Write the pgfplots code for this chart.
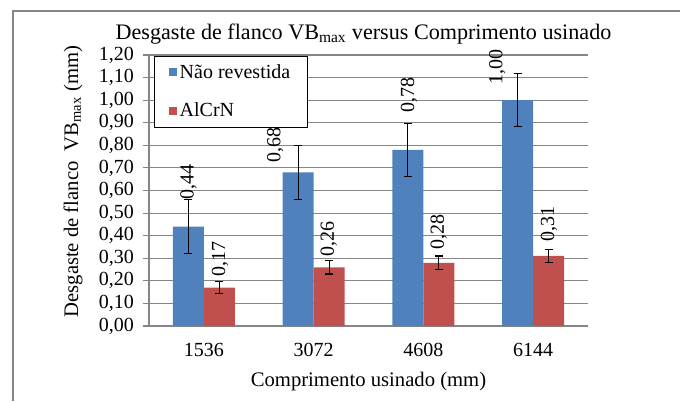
\documentclass[border=0pt]{standalone}
\usepackage{fontspec}
\setmainfont{Liberation Serif}
\usepackage{pgfplots}
\pgfplotsset{compat=1.18}

\definecolor{barblue}{HTML}{4F81BD}
\definecolor{barred}{HTML}{C0504D}
\definecolor{axisgray}{HTML}{868686}

\pgfplotsset{
    chartbox/.style={
        at={(111.75pt,56.25pt)}, anchor=south west,
        scale only axis,
        width=329.25pt, height=203.25pt,
        xmin=-0.5, xmax=3.5,
        ymin=0, ymax=1.2,
        clip=false,
        /pgf/number format/.cd, fixed, fixed zerofill, precision=2, use comma, assume math mode=true,
        /pgfplots/.cd,
    },
}

\begin{document}
\begin{tikzpicture}
% page = 680x401 px at 0.75pt per px
\useasboundingbox (0,0) rectangle (510pt,300.75pt);
\draw[axisgray, line width=0.8pt] (9.75pt,0) -- (9.75pt,292.5pt) -- (510pt,292.5pt);
\begin{axis}[
    chartbox,
    ybar=0pt, bar width=23.25pt,
    axis x line*=bottom, axis y line*=left,
    axis line style={axisgray, line width=0.8pt},
    xtick={0,1,2,3},
    xticklabels={1536,3072,4608,6144},
    xtick style={draw=none},
    ytick={0,0.1,0.2,0.3,0.4,0.5,0.6,0.7,0.8,0.9,1.0,1.1,1.2},
    ytick style={axisgray, line width=0.8pt},
    tick align=outside,
    major tick length=4.5pt,
    ymajorgrids=true,
    grid style={axisgray, line width=0.8pt},
    ticklabel style={font=\fontsize{15}{17}\selectfont},
    yticklabel style={xshift=-3.25pt},
    xticklabel style={yshift=-5pt},
    title={Desgaste de flanco VB\textsubscript{max} versus Comprimento usinado},
    title style={at={(axis description cs:0.4886,1.048)}, anchor=center, yshift=0pt,
        font=\fontsize{16.6}{19}\selectfont},
    xlabel={Comprimento usinado (mm)},
    xlabel style={at={(axis description cs:0.5,-0.2066)}, anchor=center,
        font=\fontsize{15.5}{18}\selectfont},
    ylabel={Desgaste de flanco\ \ VB\textsubscript{max} (mm)},
    ylabel style={at={(axis description cs:-0.173,0.533)}, anchor=center,
        font=\fontsize{15.5}{18}\selectfont},
    legend style={at={(rel axis cs:0.0114,0.996)}, anchor=north west,
        draw=black, line width=0.6pt, fill=white,
        font=\fontsize{15}{17}\selectfont,
        row sep=13pt, inner xsep=11pt, inner ysep=4pt},
    legend cell align=left,
    error bars/error bar style={black, line width=0.9pt},
    error bars/error mark options={black, rotate=90, mark size=3pt, line width=0.9pt},
]

\addplot[fill=barblue, draw=none, area legend,
    legend image code/.code={\fill[barblue] (0pt,-3pt) rectangle (6pt,3pt);},
    error bars/.cd, y dir=both, y explicit]
    table[x=x, y=v, y error=e] {
    x v    e
    0 0.44 0.12
    1 0.68 0.12
    2 0.78 0.117
    3 1.00 0.118
    };
\addlegendentry{Não revestida}

\addplot[fill=barred, draw=none, area legend,
    legend image code/.code={\fill[barred] (0pt,-3pt) rectangle (6pt,3pt);},
    error bars/.cd, y dir=both, y explicit]
    table[x=x, y=v, y error=e] {
    x v    e
    0 0.17 0.026
    1 0.26 0.03
    2 0.28 0.03
    3 0.31 0.03
    };
\addlegendentry{AlCrN}
\end{axis}

% data labels on an overlay axis of the same size, where the reference has them
\begin{axis}[chartbox, hide axis]
\addplot[draw=none, mark=none, nodes near coords, point meta=explicit,
    every node near coord/.append style={rotate=90, anchor=west, inner sep=0pt,
        font=\fontsize{15}{17}\selectfont}]
    table[x=x, y=y, meta=v] {
    x      y     v
    -0.141 0.558 0.44
    0.651  0.722 0.68
    1.868  0.944 0.78
    2.674  1.068 1.00
    0.146  0.217 0.17
    1.139  0.306 0.26
    2.141  0.337 0.28
    3.144  0.373 0.31
    };
\end{axis}
\end{tikzpicture}
\end{document}
